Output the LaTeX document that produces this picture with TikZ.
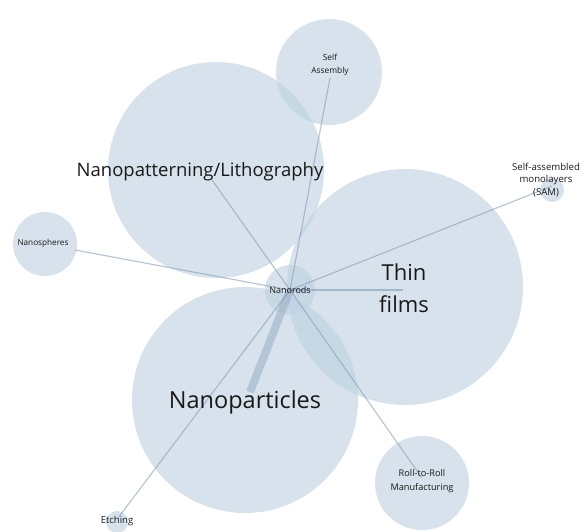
\documentclass[tikz,border=0pt]{standalone}
\usepackage{fontspec}
\setmainfont{Open Sans}
\begin{document}
\begin{tikzpicture}[x=1pt,y=-1pt,
  bub/.style={circle,fill={rgb,255:red,190;green,209;blue,225},fill opacity=0.62,draw=none,inner sep=0pt},
  edge/.style={draw={rgb,255:red,130;green,155;blue,180},draw opacity=0.6,line width=1.1pt},
  lbl/.style={text={rgb,255:red,25;green,25;blue,25},align=center,inner sep=0pt}]
\useasboundingbox (0,0) rectangle (588,531);
% bubbles
\node[bub,minimum size=106pt] (sa) at (329,72) {};
\node[bub,minimum size=216pt] (np) at (216,170) {};
\node[bub,minimum size=64pt] (ns) at (45,244) {};
\node[bub,minimum size=236pt] (tf) at (405,287) {};
\node[bub,minimum size=226pt] (nc) at (245,400) {};
\node[bub,minimum size=94pt] (rr) at (422,483) {};
\node[bub,minimum size=24pt] (sam) at (552,190) {};
\node[bub,minimum size=22pt] (et) at (117,522) {};
\node[bub,minimum size=50pt] (nr) at (290,290) {};
% edges
\draw[edge] (nr.center) -- (330,78);
\draw[edge] (nr.center) -- (212,180);
\draw[edge] (nr.center) -- (75,250);
\draw[edge] (nr.center) -- (552,186);
\draw[edge] (nr.center) -- (403,290);
\draw[edge] (nr.center) -- (422,478);
\draw[edge] (nr.center) -- (118,518);
\draw[edge,line width=8pt,draw opacity=0.4] (nr.center) -- (250,392);
% labels
\node[lbl,font=\fontsize{8.4}{13}\selectfont] at (330,65) {Self\\Assembly};
\node[lbl,font=\fontsize{18.5}{20}\selectfont] at (200,172) {Nanopatterning/Lithography};
\node[lbl,font=\fontsize{8.2}{9}\selectfont] at (43,243) {Nanospheres};
\node[lbl,font=\fontsize{22}{32}\selectfont] at (404,288) {Thin\\films};
\node[lbl,font=\fontsize{23.5}{26}\selectfont] at (245,402) {Nanoparticles};
\node[lbl,font=\fontsize{9.2}{14.5}\selectfont] at (422,481) {Roll-to-Roll\\Manufacturing};
\node[lbl,font=\fontsize{9.6}{12.5}\selectfont] at (546,180) {Self-assembled\\monolayers\\(SAM)};
\node[lbl,font=\fontsize{9.5}{11}\selectfont] at (117,521) {Etching};
\node[lbl,font=\fontsize{9}{10}\selectfont] at (nr.center) {Nanorods};
\end{tikzpicture}
\end{document}
